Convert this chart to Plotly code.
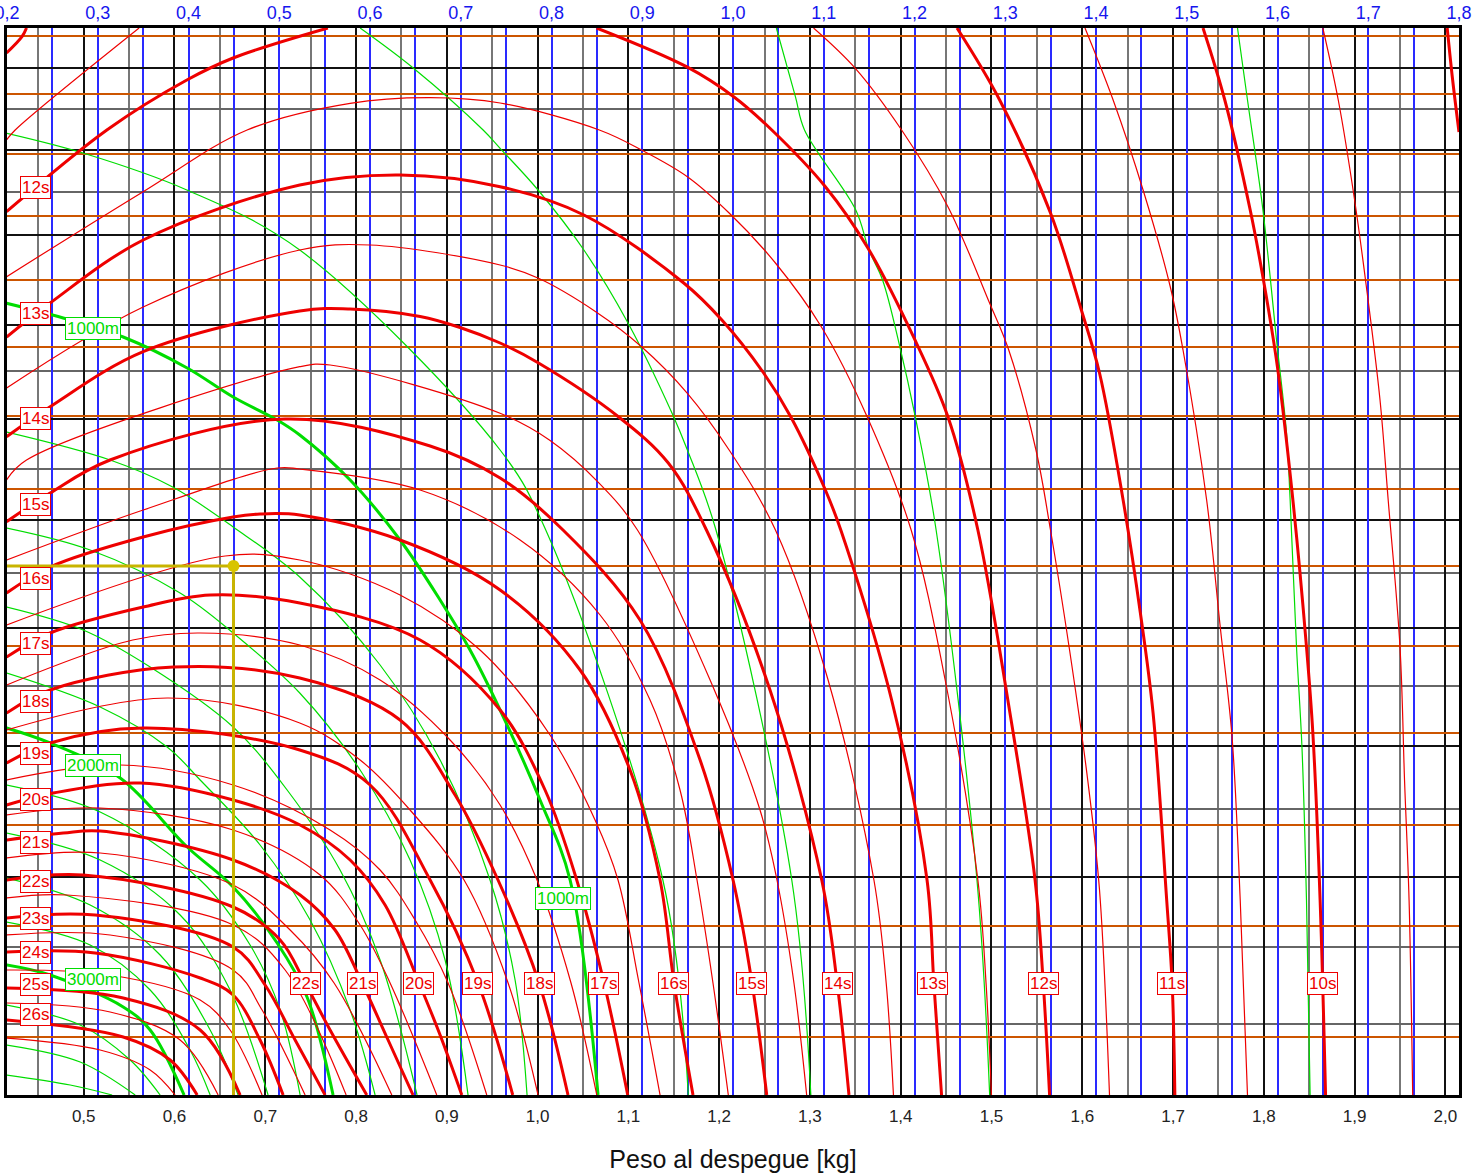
import plotly.graph_objects as go

# ---------------- axes / grid values ----------------
X_RANGE = [0.4155, 2.015]          # Peso al despegue [kg]
TOP_RANGE = [0.2, 1.8]             # upper (blue) scale
Y_RANGE = [1095, 28]               # hidden vertical scale (row units, top = 28)

black_rows = [68, 150, 235, 325, 419, 520, 628, 746, 876.5]
gray_rows = [108.5, 192, 280, 371, 469, 572.5, 686, 809, 947, 1024]
orange_rows = [36, 94.3, 154.3, 216.3, 280, 347, 416, 489, 565.7, 646, 732.7, 825, 925.7, 1036.7]

# ---------------- red curves (time) : (kg, row) ----------------
s9 = [(2.002, 28), (2.008, 80), (2.015, 132)]
s9_5 = [(1.865, 28), (1.882, 100), (1.900, 200), (1.913, 287), (1.928, 400), (1.937, 500), (1.950, 647), (1.955, 780), (1.960, 900), (1.964, 1095)]
s10 = [(1.733, 28), (1.757, 100), (1.785, 210), (1.799, 277), (1.815, 367), (1.832, 500), (1.847, 647), (1.854, 733), (1.862, 900), (1.868, 1095)]
s10_5 = [(1.603, 28), (1.634, 100), (1.667, 190), (1.697, 287), (1.711, 350), (1.737, 500), (1.752, 627), (1.765, 737), (1.774, 900), (1.782, 1095)]
s11 = [(0.415, 53), (0.432, 36.7), (0.437, 28), None,
       (1.462, 28), (1.509, 100), (1.565, 213), (1.599, 310), (1.619, 373), (1.645, 500), (1.664, 613), (1.678, 713), (1.693, 900), (1.699, 983), (1.702, 1095)]
s11_5 = [(0.415, 140), (0.4245, 130), (0.561, 28), None,
         (1.304, 28), (1.350, 68.3), (1.401, 130), (1.452, 206.7), (1.498, 303.3), (1.519, 350), (1.549, 450), (1.565, 530), (1.586, 650), (1.606, 780), (1.619, 890), (1.630, 1095)]
s12 = [(0.415, 211.7), (0.5255, 130), (0.6136, 80), (0.6646, 58), (0.769, 28), None,
       (1.065, 28), (1.164, 66.7), (1.216, 96.7), (1.258, 130), (1.317, 186.7), (1.363, 246.7), (1.414, 336.7), (1.452, 416.7), (1.485, 530), (1.518, 700), (1.548, 880), (1.557, 983), (1.564, 1095)]
s12_5 = [(0.415, 276.7), (0.5655, 191.7), (0.680, 130), (0.7935, 103.3), (0.8816, 97.7), (0.9587, 103), (1.068, 130), (1.1145, 150), (1.165, 176.7), (1.211, 213), (1.262, 263), (1.3125, 326.7), (1.363, 416.7), (1.4115, 530), (1.449, 680), (1.485, 880), (1.494, 983), (1.500, 1095)]
s13 = [(0.415, 337), (0.463, 303), (0.5655, 240), (0.738, 185), (0.8486, 175), (0.9587, 186.7), (1.051, 215), (1.161, 283), (1.203, 320), (1.249, 373), (1.279, 417), (1.317, 490), (1.334, 530), (1.390, 700), (1.429, 880), (1.4365, 983), (1.445, 1095)]
s13_5 = [(0.415, 388), (0.5655, 307), (0.738, 250), (0.8155, 245), (0.9587, 265), (1.001, 278.3), (1.064, 311.7), (1.1145, 346.7), (1.165, 393.3), (1.211, 450), (1.262, 530), (1.320, 680), (1.3705, 880), (1.384, 983), (1.392, 1095)]
s14 = [(0.415, 436.7), (0.463, 406.7), (0.5655, 351.7), (0.738, 311), (0.7935, 309), (0.8706, 316.5), (0.9146, 327.5), (0.9587, 343), (1.001, 363), (1.089, 416.7), (1.144, 463), (1.186, 530), (1.256, 690), (1.313, 880), (1.330, 983), (1.343, 1095)]
s14_5 = [(0.415, 480), (0.437, 460), (0.738, 366.7), (0.7714, 365), (0.9587, 413.3), (1.013, 440), (1.068, 483.3), (1.110, 530), (1.190, 680), (1.245, 810), (1.2637, 880), (1.2824, 983), (1.2964, 1095)]
s15 = [(0.415, 521.7), (0.463, 493), (0.529, 460), (0.7219, 419), (0.8816, 446), (0.9587, 478), (1.028, 530), (1.1128, 620), (1.179, 760), (1.2153, 880), (1.2362, 983), (1.2524, 1095)]
s15_5 = [(0.415, 560), (0.5655, 510), (0.7131, 468), (0.738, 469), (0.8706, 490), (0.9807, 540), (1.0688, 615), (1.1239, 700), (1.1569, 790), (1.1756, 880), (1.1932, 983), (1.2101, 1095)]
s16 = [(0.415, 593), (0.463, 567), (0.5655, 537), (0.6646, 517), (0.6943, 514), (0.738, 515), (0.8485, 540), (0.9587, 590), (1.0468, 670), (1.1018, 770), (1.1349, 880), (1.1503, 983), (1.1712, 1095)]
s16_5 = [(0.415, 625), (0.6558, 556), (0.738, 560), (0.8485, 595), (0.9366, 650), (1.0137, 735), (1.0633, 820), (1.0886, 880), (1.1117, 983), (1.1349, 1095)]
s17 = [(0.415, 657), (0.463, 633), (0.5655, 607), (0.6393, 595), (0.738, 603), (0.8706, 640), (0.9587, 710), (1.0082, 790), (1.0431, 880), (1.0732, 983), (1.0993, 1095)]
s17_5 = [(0.415, 685), (0.554, 640), (0.6283, 633), (0.738, 645), (0.8265, 680), (0.9036, 740), (0.9587, 805), (0.9994, 880), (1.0368, 983), (1.0652, 1095)]
s18 = [(0.415, 713), (0.463, 690), (0.5989, 667), (0.738, 678), (0.8485, 720), (0.9091, 795), (0.9564, 880), (1.0016, 983), (1.0335, 1095)]
s18_5 = [(0.415, 730), (0.5919, 698), (0.738, 723), (0.8045, 760), (0.8595, 810), (0.919, 880), (0.9675, 983), (1.0005, 1095)]
s19 = [(0.415, 763), (0.463, 743), (0.5655, 728), (0.738, 750), (0.8155, 785), (0.8816, 880), (0.9344, 983), (0.9726, 1095)]
s19_5 = [(0.415, 780), (0.5402, 765), (0.6646, 785), (0.7714, 830), (0.8265, 870), (0.8651, 920), (0.9014, 983), (0.944, 1095)]
s20 = [(0.415, 805), (0.4664, 793), (0.5622, 783), (0.6646, 800), (0.7384, 825), (0.7935, 860), (0.832, 905), (0.8694, 983), (0.8926, 1035), (0.9165, 1095)]
s20_5 = [(0.415, 815), (0.5181, 808), (0.6646, 830), (0.7604, 875), (0.8045, 925), (0.8375, 983), (0.8889, 1095)]
s21 = [(0.415, 840), (0.4774, 833), (0.5181, 831), (0.6646, 860), (0.7384, 895), (0.7769, 930), (0.8067, 983), (0.8353, 1040), (0.8628, 1095)]
s21_5 = [(0.415, 858), (0.5181, 853), (0.6646, 885), (0.7274, 930), (0.7758, 983), (0.8394, 1095)]
s22 = [(0.415, 880), (0.4994, 875), (0.6646, 907), (0.7164, 940), (0.7439, 983), (0.7714, 1030), (0.8118, 1095)]
s22_5 = [(0.415, 898), (0.4818, 895), (0.6646, 925), (0.7219, 970), (0.7891, 1095)]
s23 = [(0.415, 918), (0.5126, 915), (0.6646, 947), (0.6998, 985), (0.7329, 1040), (0.7659, 1095)]
s23_5 = [(0.415, 935), (0.5291, 935), (0.6646, 970), (0.6965, 1010), (0.7439, 1095)]
s24 = [(0.415, 952), (0.5126, 953), (0.6283, 978), (0.6646, 995), (0.6943, 1040), (0.7197, 1095)]
s24_5 = [(0.415, 970), (0.5291, 975), (0.6283, 1000), (0.6613, 1030), (0.6965, 1095)]
s25 = [(0.415, 988), (0.5435, 998), (0.6283, 1030), (0.6723, 1095)]
s25_5 = [(0.415, 1003), (0.5291, 1012), (0.6062, 1040), (0.6481, 1095)]
s26 = [(0.415, 1020), (0.5435, 1037), (0.5952, 1060), (0.625, 1095)]
s26_5 = [(0.415, 1038), (0.5181, 1050), (0.5732, 1070), (0.6007, 1095)]

red_thick = [s9, s10, s11, s12, s13, s14, s15, s16, s17, s18, s19, s20, s21, s22, s23, s24, s25, s26]
red_thin = [s9_5, s10_5, s11_5, s12_5, s13_5, s14_5, s15_5, s16_5, s17_5, s18_5, s19_5, s20_5,
            s21_5, s22_5, s23_5, s24_5, s25_5, s26_5]

# ---------------- green curves (distance) : (kg, row) ----------------
g200 = [(1.771, 28), (1.782, 100), (1.799, 210), (1.814, 340), (1.825, 433), (1.829, 500), (1.836, 647), (1.842, 747), (1.847, 900), (1.851, 1095)]
g400 = [(1.263, 28), (1.284, 96.7), (1.294, 130), (1.3505, 210), (1.365, 250), (1.380, 280), (1.399, 346.7), (1.416, 416.7), (1.439, 530), (1.484, 880), (1.498, 1095)]
g600 = [(0.8045, 28), (0.863, 68), (0.940, 130), (0.9587, 148.3), (1.0005, 190), (1.051, 250), (1.0996, 323), (1.148, 413), (1.165, 450), (1.1965, 530), (1.280, 880), (1.301, 1095)]
g800 = [(0.415, 133.3), (0.500, 153.3), (0.6136, 190), (0.738, 250), (0.9587, 450), (1.009, 530), (1.138, 880), (1.166, 1095)]
g1000 = [(0.415, 303.3), (0.4774, 318), (0.5435, 337), (0.614, 368), (0.6646, 397), (0.7131, 420), (0.738, 435), (0.7935, 480), (0.8485, 540), (0.8926, 600), (0.9256, 650), (0.9587, 710), (1.0027, 800), (1.0358, 880), (1.0666, 1095)]
g1200 = [(0.415, 432), (0.5291, 460), (0.598, 487), (0.6646, 527), (0.738, 577), (0.8265, 665), (0.8926, 760), (0.9476, 880), (0.9752, 980), (0.9884, 1095)]
g1400 = [(0.415, 528), (0.5071, 550), (0.6062, 593), (0.6646, 633), (0.738, 693), (0.8045, 770), (0.8595, 860), (0.8981, 960), (0.9234, 1095)]
g1600 = [(0.415, 607), (0.4994, 630), (0.5732, 667), (0.6646, 727), (0.7241, 790), (0.7824, 870), (0.8265, 960), (0.8672, 1095)]
g1800 = [(0.415, 673), (0.5181, 707), (0.5919, 747), (0.6283, 780), (0.6943, 845), (0.7494, 920), (0.7935, 1010), (0.821, 1095)]
g2000 = [(0.415, 728), (0.463, 743), (0.5402, 778), (0.614, 847), (0.6646, 887), (0.7131, 943), (0.746, 997), (0.7747, 1095)]
g2200 = [(0.415, 785), (0.5181, 812), (0.6283, 880), (0.6833, 945), (0.7164, 1010), (0.7384, 1095)]
g2400 = [(0.415, 833), (0.5181, 860), (0.6062, 915), (0.6613, 990), (0.7031, 1095)]
g2600 = [(0.415, 878), (0.5071, 905), (0.5842, 955), (0.6393, 1030), (0.6701, 1095)]
g2800 = [(0.415, 922), (0.5071, 945), (0.5732, 990), (0.6172, 1050), (0.6393, 1095)]
g3000 = [(0.415, 965), (0.463, 975), (0.5435, 1007), (0.5732, 1030), (0.6106, 1095)]
g3200 = [(0.415, 1005), (0.4961, 1025), (0.5512, 1060), (0.5842, 1095)]
g3400 = [(0.415, 1045), (0.4961, 1062), (0.5567, 1095)]
g3600 = [(0.415, 1075), (0.4851, 1085), (0.5313, 1095)]

green_thin = [g200, g400, g600, g800, g1200, g1400, g1600, g1800, g2200, g2400, g2600, g2800, g3200, g3400, g3600]
green_thick = [g1000, g2000, g3000]

# ---------------- labels ----------------
left_time_labels = ["12s", "13s", "14s", "15s", "16s", "17s", "18s", "19s", "20s", "21s", "22s", "23s", "24s", "25s", "26s"]
left_time_rows = [187, 313, 418, 504, 578, 643, 701, 753, 799, 842, 881, 918, 952, 984, 1014]
bottom_time_labels = ["22s", "21s", "20s", "19s", "18s", "17s", "16s", "15s", "14s", "13s", "12s", "11s", "10s"]
bottom_time_kg = [0.744, 0.807, 0.869, 0.934, 1.002, 1.073, 1.150, 1.236, 1.330, 1.4355, 1.557, 1.699, 1.865]
bottom_time_row = 983
dist_labels = ["1000m", "2000m", "3000m", "1000m"]
dist_kg = [0.5105, 0.5105, 0.5105, 1.028]
dist_rows = [328, 765, 979, 898]

# example reading
example_kg = 0.665
example_row = 566

RED = "#ee0000"
GREEN = "#00dd00"
FONT = "Liberation Sans, Arial, sans-serif"

fig = go.Figure()


def add_curve(pts, color, width):
    xs, ys = [], []
    for p in pts:
        if p is None:
            xs.append(None)
            ys.append(None)
        else:
            xs.append(p[0])
            ys.append(p[1])
    fig.add_trace(go.Scatter(x=xs, y=ys, mode="lines",
                             line=dict(color=color, width=width, shape="spline", smoothing=1.0),
                             hoverinfo="skip", showlegend=False, connectgaps=False))


for c in green_thin:
    add_curve(c, GREEN, 1.2)
for c in green_thick:
    add_curve(c, GREEN, 3)
for c in red_thin:
    add_curve(c, RED, 1.2)
for c in red_thick:
    add_curve(c, RED, 3)

# example path
fig.add_trace(go.Scatter(x=[X_RANGE[0], example_kg, example_kg], y=[example_row, example_row, Y_RANGE[0]],
                         mode="lines", line=dict(color="#c8b400", width=3),
                         hoverinfo="skip", showlegend=False))
fig.add_trace(go.Scatter(x=[example_kg], y=[example_row], mode="markers",
                         marker=dict(color="#d8c400", size=12), hoverinfo="skip", showlegend=False))

# invisible trace for the overlay axes
fig.add_trace(go.Scatter(x=[1.0], y=[500], xaxis="x2", yaxis="y2", mode="markers",
                         marker=dict(opacity=0), hoverinfo="skip", showlegend=False))

annotations = []
for t, r in zip(left_time_labels, left_time_rows):
    annotations.append(dict(x=0.4465, y=r, text=t))
for t, k in zip(bottom_time_labels, bottom_time_kg):
    annotations.append(dict(x=k, y=bottom_time_row, text=t))
for a in annotations:
    a.update(xref="x", yref="y", showarrow=False,
             font=dict(color=RED, size=17, family=FONT), bgcolor="white",
             bordercolor=RED, borderwidth=1, borderpad=1)
for t, k, r in zip(dist_labels, dist_kg, dist_rows):
    annotations.append(dict(x=k, y=r, xref="x", yref="y", text=t, showarrow=False,
                            font=dict(color=GREEN, size=17, family=FONT), bgcolor="white",
                            bordercolor=GREEN, borderwidth=1, borderpad=1))

fig.update_layout(
    width=1479, height=1176,
    margin=dict(l=7, r=20, t=28, b=81, autoexpand=False),
    paper_bgcolor="white", plot_bgcolor="white",
    separators=",.",
    font=dict(family=FONT),
    showlegend=False,
    annotations=annotations,
    xaxis=dict(range=X_RANGE, tick0=0.5, dtick=0.1, tickformat=".1f", automargin=False,
               showgrid=True, gridcolor="#111111", gridwidth=1.5,
               minor=dict(tick0=0.45, dtick=0.05, showgrid=True, gridcolor="#777777", gridwidth=1.5),
               showline=True, linecolor="black", linewidth=3, mirror=True, zeroline=False,
               ticks="", ticklabelstandoff=4, tickfont=dict(size=17, color="#222222"),
               title=dict(text="Peso al despegue [kg]", font=dict(size=25, color="#111111"), standoff=26)),
    xaxis2=dict(range=TOP_RANGE, overlaying="x", side="top", tick0=0.2, dtick=0.1, tickformat=".1f",
                automargin=False,
                showgrid=True, gridcolor="#2a2aff", gridwidth=1.5,
                minor=dict(tick0=0.25, dtick=0.05, showgrid=True, gridcolor="#2a2aff", gridwidth=1.5),
                showline=False, zeroline=False, ticks="", ticklabeloverflow="allow",
                ticklabelstandoff=4, tickfont=dict(size=18, color="#1515ee")),
    yaxis=dict(range=Y_RANGE, tickmode="array", tickvals=black_rows, showticklabels=False, automargin=False,
               showgrid=True, gridcolor="#111111", gridwidth=1.5,
               minor=dict(tickmode="array", tickvals=gray_rows, showgrid=True, gridcolor="#666666", gridwidth=1.5),
               showline=True, linecolor="black", linewidth=3, mirror=True, zeroline=False, ticks=""),
    yaxis2=dict(range=Y_RANGE, overlaying="y", side="right", tickmode="array", tickvals=orange_rows,
                showticklabels=False, showgrid=True, gridcolor="#cc5500", gridwidth=1.5, automargin=False,
                showline=False, zeroline=False, ticks=""),
)

fig.write_html("out.html")
